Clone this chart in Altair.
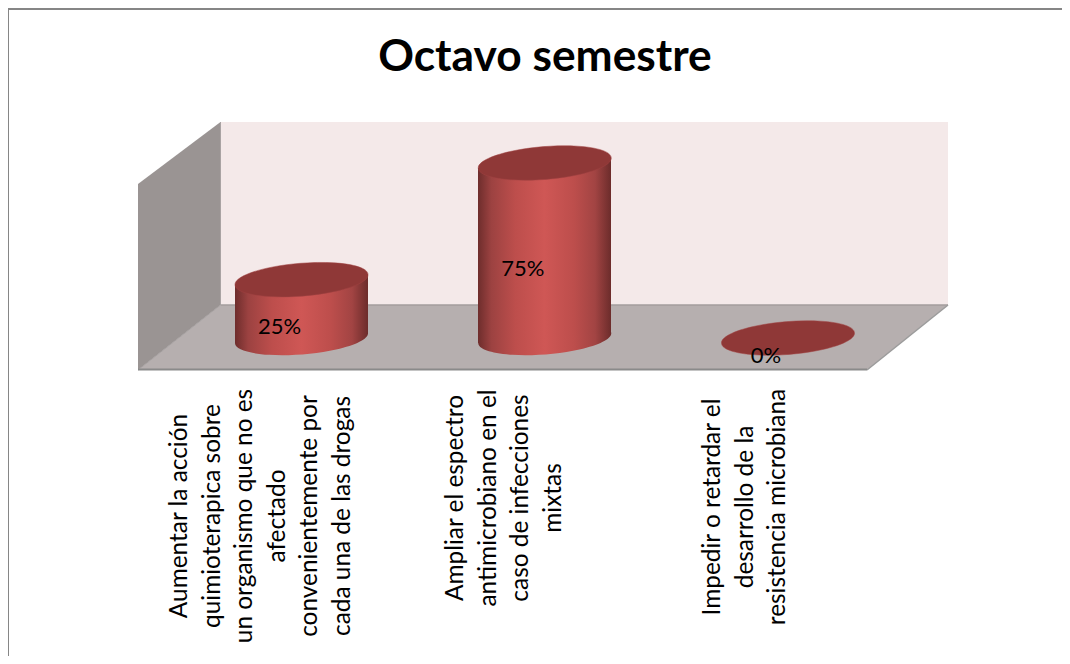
import altair as alt
import pandas as pd

TITLE = "Octavo semestre"
categories = [
    "Aumentar la acción\nquimioterapica sobre\nun organismo que no es\nafectado\nconvenientemente por\ncada una de las drogas",
    "Ampliar el espectro\nantimicrobiano en el\ncaso de infecciones\nmixtas",
    "Impedir o retardar el\ndesarrollo de la\nresistencia microbiana",
]
values = [25, 75, 0]
value_labels = ["25%", "75%", "0%"]

# layout (page pixels; the chart starts 8px into the page)
W, H = 1054, 648
OX, OY = 8, 8
BAR_CENTERS = [301.5, 544.5, 788]
LABEL_X = [180, 456, 713]  # first line of each rotated label
LABEL_Y = [516, 498, 507]
PX_PER_PCT = 175 / 75
BASE_Y = 338
HALF_W = 66.5
TILT = 5 / PX_PER_PCT  # the discs' ends drop/rise by 5px

FONT = "Lato"
GRAD = alt.LinearGradient(
    gradient="linear", x1=0, x2=1, y1=0, y2=0,
    stops=[
        alt.GradientStop(color="#6e2d2c", offset=0),
        alt.GradientStop(color="#9c4241", offset=0.1),
        alt.GradientStop(color="#bd4e4c", offset=0.28),
        alt.GradientStop(color="#cf5755", offset=0.5),
        alt.GradientStop(color="#bd4e4c", offset=0.72),
        alt.GradientStop(color="#a24443", offset=0.88),
        alt.GradientStop(color="#6c2c2b", offset=1),
    ],
)
TOP = "#8f3837"
# rotated ellipse in units of the semi-major axis
ELLIPSE = "M-0.99673,0.07968 A1,0.243,-4.57,1,0,0.99673,-0.07968 A1,0.243,-4.57,1,0,-0.99673,0.07968 Z"
ELLIPSE_SIZE = (2 * 66.7) ** 2

px = alt.Scale(domain=[0, W], range=[0, W])
py = alt.Scale(domain=[H, 0], range=[H, 0])
X = lambda f: alt.X(f, type="quantitative", scale=px, axis=None)
Y = lambda f: alt.Y(f, type="quantitative", scale=py, axis=None)


def poly(rows):
    return pd.DataFrame(
        [{"x": a - OX, "y": b - OY, "y2": c - OY} for a, b, c in rows]
    )


def seg(rows, color, width):
    d = pd.DataFrame([{"x": a - OX, "y": b - OY} for a, b in rows])
    return alt.Chart(d).mark_line(color=color, strokeWidth=width, clip=False).encode(X("x"), Y("y"))


back = alt.Chart(pd.DataFrame([{"x": 220 - OX, "x2": 948 - OX, "y": 122 - OY, "y2": 305 - OY}])).mark_rect(
    color="#f4e9e9"
).encode(X("x"), x2="x2", y=Y("y"), y2="y2")
side = alt.Chart(poly([(138, 184, 370), (220.5, 122, 305)])).mark_area(color="#9a9493", orient="vertical").encode(
    X("x"), Y("y"), y2="y2"
)
floor = alt.Chart(poly([(138, 370, 370), (220.5, 305, 370), (867, 305, 370), (948, 305, 305)])).mark_area(
    color="#b6afaf", orient="vertical"
).encode(X("x"), Y("y"), y2="y2")

frame = [
    seg([(8.5, 5), (8.5, 664)], "#868686", 1),
    seg([(8, 9), (1070, 9)], "#868686", 2),
]
edges = [
    seg([(220.5, 122), (220.5, 305)], "#a9a3a3", 1),
    seg([(220.5, 305), (948, 305)], "#a39d9d", 1.5),
    seg([(867, 370), (948, 305)], "#9c9c9c", 1.5),
    seg([(138, 370), (220.5, 305)], "#a5a0a0", 1),
    seg([(138, 369.5), (867, 369.5)], "#8a8a8a", 2),
]

# value scale: 0% sits on the cylinder base, 75% on the top centre
y_dom = [(BASE_Y - OY - H) / PX_PER_PCT, (BASE_Y - OY) / PX_PER_PCT]
v_scale = alt.Scale(domain=y_dom, range=[H, 0])
cat_scale = alt.Scale(
    type="point", domain=categories, padding=0,
    range=[BAR_CENTERS[0] - OX, BAR_CENTERS[-1] - OX],
)
CX = alt.X("cat:N", scale=cat_scale, axis=None)
VY = alt.Y("v:Q", scale=v_scale, axis=None)

df = pd.DataFrame({"cat": categories, "v": values, "lab": value_labels})
tall = alt.Chart(df).transform_filter("datum.v > 0")

base_disc = tall.mark_point(shape=ELLIPSE, size=ELLIPSE_SIZE, filled=True, fill=GRAD, opacity=1, strokeWidth=0).encode(
    x=CX, y=alt.Y("z:Q", scale=v_scale, axis=None)
).transform_calculate(z="0")

# cylinder walls: sheared with the discs, from each value down to the base
wall_rows = []
for c, v, cx in zip(categories, values, BAR_CENTERS):
    if v > 0:
        wall_rows.append({"cat": c, "x": cx - HALF_W - OX, "t": v - TILT, "b": -TILT})
        wall_rows.append({"cat": c, "x": cx + HALF_W - OX, "t": v + TILT, "b": TILT})
walls = [
    alt.Chart(pd.DataFrame([r for r in wall_rows if r["cat"] == c])).mark_area(
        fill=GRAD, orient="vertical", strokeWidth=0
    ).encode(
        X("x"), y=alt.Y("t:Q", scale=v_scale, axis=None), y2="b:Q"
    )
    for c, v in zip(categories, values) if v > 0
]
top = alt.Chart(df).mark_point(
    shape=ELLIPSE, size=ELLIPSE_SIZE, filled=True, fill=TOP, opacity=1, stroke="#a04342", strokeWidth=0.5
).encode(x=CX, y=VY)
vlab = alt.Chart(df).transform_calculate(m="datum.v / 2").mark_text(
    font=FONT, fontSize=22, color="black", dx=-22, dy=18
).encode(x=CX, y=alt.Y("m:Q", scale=v_scale, axis=None), text="lab:N")

lab_df = pd.DataFrame({"t": categories, "x": [v - OX for v in LABEL_X], "y": [v - OY for v in LABEL_Y]})
cat_labels = alt.Chart(lab_df).mark_text(
    font=FONT, fontSize=24.4, color="black", angle=270, align="center", baseline="middle",
    lineBreak="\n", lineHeight=32.6,
).encode(X("x"), Y("y"), text="t:N")

title_mark = alt.Chart(pd.DataFrame({"t": [TITLE], "x": [545 - OX], "y": [58 - OY]})).mark_text(
    font=FONT, fontSize=44.3, fontWeight="bold", color="black", align="center", baseline="middle",
).encode(X("x"), Y("y"), text="t:N")

chart = alt.layer(
    back, side, floor, *edges, *frame, base_disc, *walls, top, vlab, cat_labels, title_mark
).resolve_scale(x="independent", y="independent").properties(
    width=W, height=H, padding=0, autosize=alt.AutoSizeParams(type="none"),
    background="white",
).configure_view(stroke=None)

chart.save("out.html", embed_options={"renderer": "svg", "actions": False})
